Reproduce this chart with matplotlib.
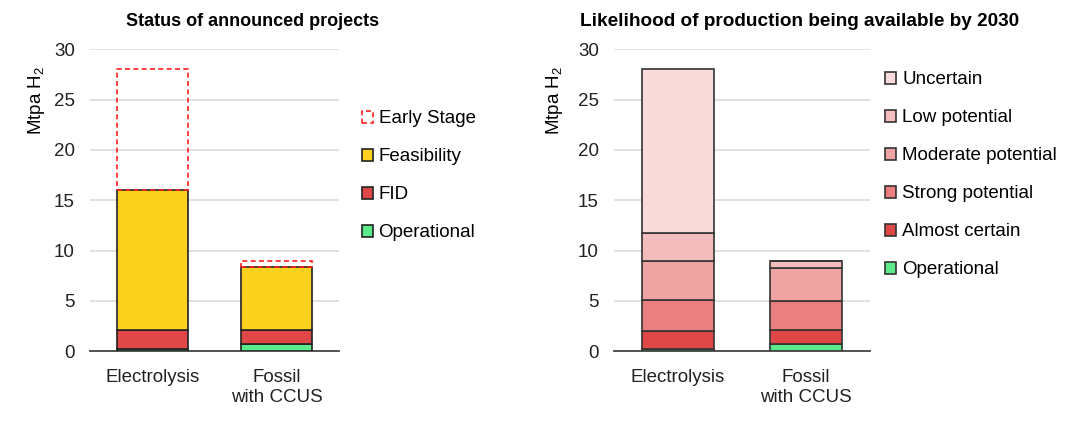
import matplotlib
matplotlib.use("Agg")
import matplotlib.pyplot as plt
import numpy as np

plt.rcParams["font.family"] = ["Liberation Sans", "DejaVu Sans"]
plt.rcParams["mathtext.fontset"] = "custom"
plt.rcParams["mathtext.rm"] = "Liberation Sans"

# ---- data -------------------------------------------------------------
categories = ["Electrolysis", "Fossil\nwith CCUS"]

# left panel: status of announced projects (Mtpa H2)
status_labels = ["Operational", "FID", "Feasibility", "Early Stage"]
operational = [0.2, 0.75]
fid = [1.9, 1.4]
feasibility = [13.9, 6.25]
early_stage = [12.0, 0.6]

# right panel: likelihood of availability by 2030 (Mtpa H2)
likely_labels = ["Operational", "Almost certain", "Strong potential",
                 "Moderate potential", "Low potential", "Uncertain"]
lk_operational = [0.2, 0.73]
lk_almost = [1.8, 1.37]
lk_strong = [3.1, 2.9]
lk_moderate = [3.9, 3.3]
lk_low = [2.8, 0.7]
lk_uncertain = [16.2, 0.0]

yticks = [0, 5, 10, 15, 20, 25, 30]

# ---- styles -----------------------------------------------------------
c_green = "#5DEB8A"
c_red = "#E04848"
c_yellow = "#FCD21F"
likely_colors = [c_green, "#E04848", "#EB7F7F", "#F0A3A3", "#F4BDBD", "#F9DBDB"]
grid_c = "#DCDCDC"
bw = 0.57
fs = 13.5

fig = plt.figure(figsize=(10.8, 4.22), dpi=100)
ax1 = fig.add_axes([90 / 1080, 1 - 351.3 / 422, 249 / 1080, (351.3 - 49.3) / 422])
ax2 = fig.add_axes([614 / 1080, 1 - 351.3 / 422, 256 / 1080, (351.3 - 49.3) / 422])


def style_axes(ax, label_x):
    ax.set_xlim(-0.5, 1.5)
    ax.set_ylim(0, 30)
    ax.set_yticks(yticks)
    ax.set_xticks(np.arange(len(categories)))
    ax.set_xticklabels(categories, fontsize=fs, linespacing=1.2)
    ax.tick_params(axis="both", length=0, labelsize=fs, colors="#222222")
    ax.tick_params(axis="y", pad=11)
    ax.tick_params(axis="x", pad=13)
    for s in ["top", "right", "left"]:
        ax.spines[s].set_visible(False)
    ax.spines["bottom"].set_color("#444444")
    ax.spines["bottom"].set_linewidth(1.3)
    ax.grid(axis="y", color=grid_c, linewidth=1.2)
    ax.set_axisbelow(True)
    ax.set_ylabel(r"Mtpa H$_\mathregular{2}$", fontsize=fs)
    ax.yaxis.set_label_coords(label_x, 0.83)


x = np.arange(len(categories))

# ---- left panel ---------------------------------------------------------
bottom = np.zeros(len(categories))
for vals, col, lab in [(operational, c_green, "Operational"),
                       (fid, c_red, "FID"),
                       (feasibility, c_yellow, "Feasibility")]:
    ax1.bar(x, vals, bw, bottom=bottom, color=col, edgecolor="#222222",
            linewidth=1.2, label=lab, zorder=3)
    bottom += np.array(vals)
ax1.bar(x, early_stage, bw, bottom=bottom, facecolor="none", edgecolor="#FF1F1F",
        linestyle=(0, (3, 2)), linewidth=1.2, label="Early Stage", zorder=4)
style_axes(ax1, -0.172)
h, l = ax1.get_legend_handles_labels()
ax1.legend(h[::-1], l[::-1], loc="upper left", bbox_to_anchor=(1.061, 0.823),
           frameon=False, fontsize=fs, handlelength=0.6, handleheight=0.6,
           handletextpad=0.3, labelspacing=1.12, borderaxespad=0)

# ---- right panel --------------------------------------------------------
bottom = np.zeros(len(categories))
series = [lk_operational, lk_almost, lk_strong, lk_moderate, lk_low, lk_uncertain]
for vals, col, lab in zip(series, likely_colors, likely_labels):
    ax2.bar(x, vals, bw, bottom=bottom, color=col, edgecolor="#333333",
            linewidth=1.2, label=lab, zorder=3)
    bottom += np.array(vals)
style_axes(ax2, -0.19)
h, l = ax2.get_legend_handles_labels()
ax2.legend(h[::-1], l[::-1], loc="upper left", bbox_to_anchor=(1.03, 0.952),
           frameon=False, fontsize=fs, handlelength=0.6, handleheight=0.6,
           handletextpad=0.3, labelspacing=1.12, borderaxespad=0)

fig.text(253 / 1080, 1 - 22 / 422, "Status of announced projects",
         ha="center", va="center", fontsize=13, fontweight="bold")
fig.text(800 / 1080, 1 - 22 / 422, "Likelihood of production being available by 2030",
         ha="center", va="center", fontsize=13.7, fontweight="bold")

fig.savefig("out.png", dpi=100)
